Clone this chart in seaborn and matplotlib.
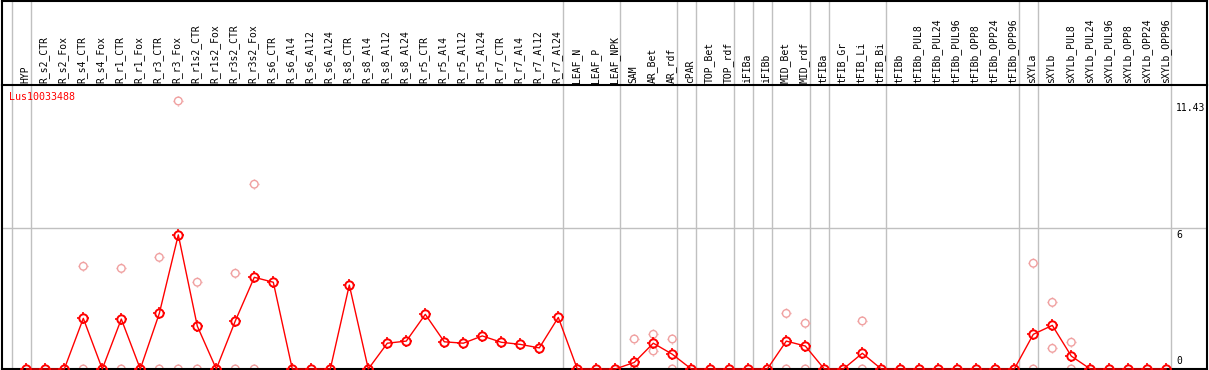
import matplotlib
matplotlib.use("Agg")
import matplotlib.pyplot as plt
import seaborn as sns
import numpy as np
from matplotlib.path import Path

samples = ['HYP', 'R_s2_CTR', 'R_s2_Fox', 'R_s4_CTR', 'R_s4_Fox', 'R_r1_CTR', 'R_r1_Fox',
           'R_r3_CTR', 'R_r3_Fox', 'R_r1s2_CTR', 'R_r1s2_Fox', 'R_r3s2_CTR', 'R_r3s2_Fox',
           'R_s6_CTR', 'R_s6_Al4', 'R_s6_Al12', 'R_s6_Al24', 'R_s8_CTR', 'R_s8_Al4',
           'R_s8_Al12', 'R_s8_Al24', 'R_r5_CTR', 'R_r5_Al4', 'R_r5_Al12', 'R_r5_Al24',
           'R_r7_CTR', 'R_r7_Al4', 'R_r7_Al12', 'R_r7_Al24', 'LEAF_N', 'LEAF_P', 'LEAF_NPK',
           'SAM', 'AR_Bet', 'AR_rdf', 'cPAR', 'TOP_Bet', 'TOP_rdf', 'iFIBa', 'iFIBb',
           'MID_Bet', 'MID_rdf', 'tFIBa', 'tFIB_Gr', 'tFIB_Li', 'tFIB_Bi', 'tFIBb',
           'tFIBb_PUL8', 'tFIBb_PUL24', 'tFIBb_PUL96', 'tFIBb_OPP8', 'tFIBb_OPP24',
           'tFIBb_OPP96', 'sXYLa', 'sXYLb', 'sXYLb_PUL8', 'sXYLb_PUL24', 'sXYLb_PUL96',
           'sXYLb_OPP8', 'sXYLb_OPP24', 'sXYLb_OPP96']

# mean expression per sample
means = [0, 0, 0, 2.16, 0, 2.13, 0, 2.37, 5.72, 1.83, 0, 2.05, 3.91,
         3.70, 0, 0, 0, 3.58, 0, 1.10, 1.19, 2.33, 1.16, 1.10, 1.41,
         1.14, 1.05, 0.90, 2.20, 0, 0, 0,
         0.28, 1.10, 0.63, 0, 0, 0, 0, 0,
         1.19, 0.98, 0, 0, 0.67, 0, 0,
         0, 0, 0, 0, 0, 0,
         1.48, 1.86, 0.55, 0, 0, 0, 0, 0]

# single replicates (sample index, value)
rep_idx = [3, 3, 5, 5, 7, 7, 8, 8, 9, 9, 11, 11, 12, 12,
           32, 32, 33, 33, 34, 34, 40, 40, 41, 41, 44, 44,
           53, 53, 54, 54, 55, 55]
rep_val = [4.38, 0, 4.29, 0, 4.76, 0, 11.43, 0, 3.70, 0, 4.08, 0, 7.88, 0,
           1.28, 0, 1.48, 0.77, 1.28, 0, 2.37, 0, 1.95, 0, 2.05, 0,
           4.51, 0, 2.84, 0.88, 1.14, 0]

# group separators after these sample indices
group_ends = [-1, 0, 28, 31, 34, 35, 37, 38, 39, 41, 42, 45, 52, 53, 60]

gene = 'Lus10033488'
y_labels = [11.43, 6, 0]

sns.set_style('white')
plt.rcParams['font.family'] = ['DejaVu Sans Mono']

W, H = 1209, 370
fig = plt.figure(figsize=(W / 100, H / 100), dpi=100)


def rect(x0, y0, x1, y1):
    return [x0 / W, 1 - y1 / H, (x1 - x0) / W, (y1 - y0) / H]


ax = fig.add_axes(rect(1.5, 85, 1207, 369))
hx = fig.add_axes(rect(1.5, 0.7, 1207, 85))

xl = ((1.5 - 26.3) / 19, (1207 - 26.3) / 19)
for a in (ax, hx):
    a.set_xlim(*xl)
    a.set_xticks([])
    a.set_yticks([])
    for s in a.spines.values():
        s.set_color('black')
        s.set_linewidth(1.5)
    for g in group_ends:
        a.axvline(g + 0.23, color='#c0c0c0', lw=1.0, zorder=0)
ax.spines['top'].set_visible(False)
ax.set_ylim(0, 284 / 23.45)
hx.set_ylim(0, 1)

ax.axhline(6, color='#c0c0c0', lw=1.0, zorder=0)

# small ticks around the circle markers
tk = Path([[0, 1], [0, 1.4], [0, -1], [0, -1.4], [1, 0], [1.4, 0], [-1, 0], [-1.4, 0]],
          [Path.MOVETO, Path.LINETO] * 4)

x = np.arange(len(samples))
light = '#f0a0a0'
sns.scatterplot(x=rep_idx, y=rep_val, ax=ax, marker='o', s=30, facecolor='none',
                edgecolor=light, linewidth=1.0, clip_on=False, zorder=2)
sns.scatterplot(x=rep_idx, y=rep_val, ax=ax, marker=tk, s=59, color=light,
                edgecolor=light, linewidth=1.0, clip_on=False, zorder=2)
sns.lineplot(x=x, y=means, ax=ax, color='#ff0000', lw=1.0, marker='o', markersize=6,
             mfc='none', mec='#ff0000', mew=1.4, clip_on=False, zorder=3)
ax.plot(x, means, ls='none', marker=tk, markersize=8.4, mec='#ff0000', mew=1.2,
        clip_on=False, zorder=3)

for i, name in enumerate(samples):
    hx.text(i - 0.05, 0.025, name, rotation=90, ha='center', va='bottom',
            fontsize=7, color='black')

ax.text(-0.9, 11.8, gene, color='#ff0000', fontsize=7.2, ha='left', va='top')

xr = (1176 - 26.3) / 19
for v in y_labels:
    va = 'bottom' if v == 0 else 'top'
    yy = 0.12 if v == 0 else v - 0.08
    ax.text(xr, yy, f'{v:g}', fontsize=7, ha='left', va=va, color='black')

fig.savefig('out.png', dpi=100)
